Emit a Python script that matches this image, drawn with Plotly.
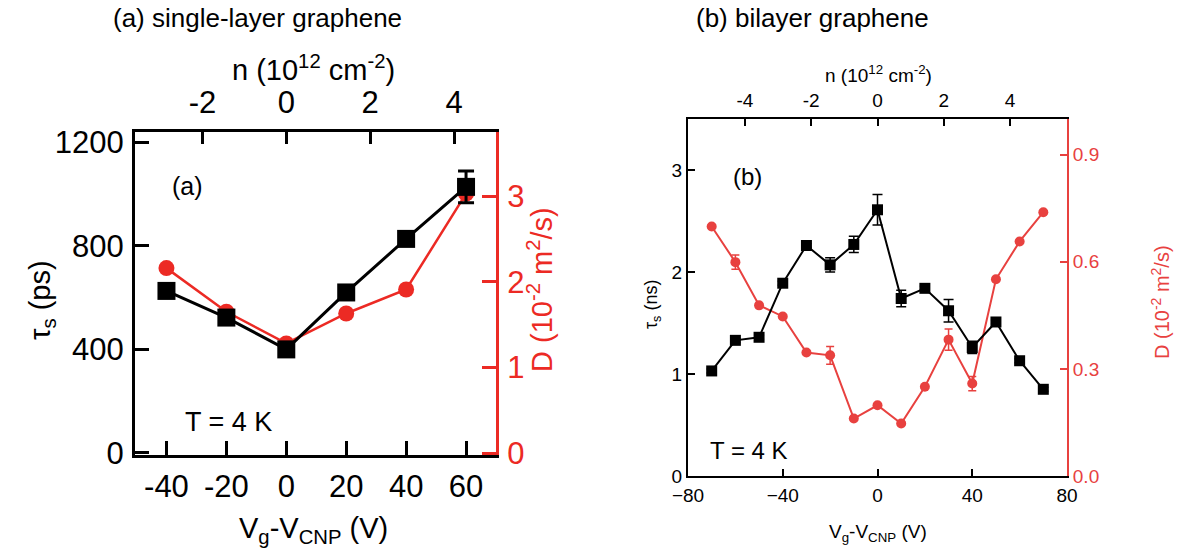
import plotly.graph_objects as go

# ---------------- data ----------------
# panel (a) single-layer graphene
va = [-40, -20, 0, 20, 40, 60]
tau_a = [626, 523, 400, 620, 827, 1028]          # ps
tau_a_err = [0, 0, 0, 0, 0, 61]
D_a = [2.16, 1.65, 1.28, 1.63, 1.91, 3.03]       # 1e-2 m^2/s

# panel (b) bilayer graphene
vb = [-70, -60, -50, -40, -30, -20, -10, 0, 10, 20, 30, 40, 50, 60, 70]
tau_b = [1.03, 1.33, 1.36, 1.89, 2.26, 2.07, 2.27, 2.61, 1.74, 1.84, 1.62, 1.26, 1.51, 1.13, 0.85]  # ns
tau_b_err = [0.02, 0.02, 0.02, 0.02, 0.02, 0.07, 0.08, 0.15, 0.08, 0.02, 0.11, 0.06, 0.02, 0.02, 0.02]
D_b = [0.699, 0.599, 0.478, 0.447, 0.346, 0.338, 0.161, 0.198, 0.147, 0.250, 0.382, 0.259, 0.551, 0.657, 0.739]
D_b_err = [0.0, 0.02, 0.0, 0.0, 0.0, 0.025, 0.0, 0.0, 0.0, 0.0, 0.03, 0.02, 0.0, 0.0, 0.0]

# top axis: carrier density n (1e12 cm^-2) vs gate voltage
n_ticks_a = [-2, 0, 2, 4]
n_ticks_b = [-4, -2, 0, 2, 4]
V_per_n = 14.0

W, H = 1184, 558
FONT = "Liberation Sans, Arial, Helvetica, sans-serif"
RED_A = "#ec2a24"
RED_B = "#e8413f"


def px(x, y):
    return x / W, 1 - y / H


fig = go.Figure()

# ---- panel (a) ----
fig.add_trace(go.Scatter(x=va, y=D_a, xaxis="x", yaxis="y", mode="lines+markers",
                         line=dict(color=RED_A, width=2.5),
                         marker=dict(symbol="circle", size=16, color=RED_A),
                         showlegend=False, cliponaxis=False))
fig.add_trace(go.Scatter(x=va, y=tau_a, xaxis="x", yaxis="y2", mode="lines+markers",
                         line=dict(color="black", width=3),
                         marker=dict(symbol="square", size=18, color="black"),
                         error_y=dict(type="data", array=tau_a_err, color="black",
                                      thickness=3, width=8),
                         showlegend=False, cliponaxis=False))

# ---- panel (b) ----
fig.add_trace(go.Scatter(x=vb, y=D_b, xaxis="x3", yaxis="y3", mode="lines+markers",
                         line=dict(color=RED_B, width=2),
                         marker=dict(symbol="circle", size=10, color=RED_B),
                         error_y=dict(type="data", array=D_b_err, color=RED_B,
                                      thickness=1.5, width=4),
                         showlegend=False, cliponaxis=False))
fig.add_trace(go.Scatter(x=vb, y=tau_b, xaxis="x3", yaxis="y4", mode="lines+markers",
                         line=dict(color="black", width=2),
                         marker=dict(symbol="square", size=11, color="black"),
                         error_y=dict(type="data", array=tau_b_err, color="black",
                                      thickness=1.5, width=5),
                         showlegend=False, cliponaxis=False))

dom_ax = [135 / W, 496 / W]
dom_ay = [1 - 455 / H, 1 - 132 / H]
dom_bx = [688 / W, 1067 / W]
dom_by = [1 - 476 / H, 1 - 119 / H]

fa = dict(family=FONT, size=31, color="black")
fb = dict(family=FONT, size=19, color="black")

common_a = dict(showgrid=False, zeroline=False, showline=True, linewidth=3,
                ticks="inside", ticklen=14, tickwidth=3, automargin=False)
common_b = dict(showgrid=False, zeroline=False, showline=True, linewidth=2,
                ticks="inside", ticklen=7, tickwidth=1.5, automargin=False)

xr_a = [-50.5, 70]
xr_b = [-80, 80]

fig.update_layout(
    width=W, height=H, margin=dict(l=0, r=0, t=0, b=0, autoexpand=False),
    paper_bgcolor="white", plot_bgcolor="white",
    font=dict(family=FONT),
    # panel (a)
    xaxis=dict(domain=dom_ax, anchor="y", range=xr_a, tickvals=va,
               ticktext=[str(v) for v in va], linecolor="black", tickcolor="black",
               tickfont=fa, ticklabelstandoff=2, **common_a),
    xaxis2=dict(overlaying="x", anchor="y", side="top", range=xr_a,
                tickvals=[n * V_per_n for n in n_ticks_a], ticktext=[str(n) for n in n_ticks_a],
                linecolor="black", tickcolor="black", tickfont=fa, ticklabelstandoff=4,
                ticklen=12, **{k: v for k, v in common_a.items() if k != "ticklen"}),
    yaxis=dict(domain=dom_ay, anchor="x", side="right", range=[-0.023, 3.75],
               tickvals=[0, 1, 2, 3], linecolor=RED_A, tickcolor=RED_A,
               tickfont=dict(family=FONT, size=31, color=RED_A), ticklabelstandoff=2, **common_a),
    yaxis2=dict(overlaying="y", anchor="x", side="left", range=[-8, 1240],
                tickvals=[0, 400, 800, 1200], linecolor="black", tickcolor="black",
                tickfont=fa, ticklabelstandoff=2, **common_a),
    # panel (b)
    xaxis3=dict(domain=dom_bx, anchor="y3", range=xr_b, tickvals=[-80, -40, 0, 40, 80],
                linecolor="black", tickcolor="black", tickfont=fb, ticklabelstandoff=1, **common_b),
    xaxis4=dict(overlaying="x3", anchor="y3", side="top", range=xr_b,
                tickvals=[n * V_per_n for n in n_ticks_b], ticktext=[str(n) for n in n_ticks_b],
                linecolor="black", tickcolor="black", tickfont=fb, ticklabelstandoff=2, **common_b),
    yaxis3=dict(domain=dom_by, anchor="x3", side="right", range=[0, 1.0],
                tickvals=[0, 0.3, 0.6, 0.9], ticktext=["0.0", "0.3", "0.6", "0.9"],
                linecolor=RED_B, tickcolor=RED_B,
                tickfont=dict(family=FONT, size=19, color=RED_B), ticklabelstandoff=0, **common_b),
    yaxis4=dict(overlaying="y3", anchor="x3", side="left", range=[0, 3.5],
                tickvals=[0, 1, 2, 3], linecolor="black", tickcolor="black",
                tickfont=fb, ticklabelstandoff=0, **common_b),
)

# invisible traces so the top axes get drawn
fig.add_trace(go.Scatter(x=[0], y=[0], xaxis="x2", yaxis="y", mode="markers",
                         marker=dict(opacity=0), showlegend=False, hoverinfo="skip"))
fig.add_trace(go.Scatter(x=[0], y=[0], xaxis="x4", yaxis="y3", mode="markers",
                         marker=dict(opacity=0), showlegend=False, hoverinfo="skip"))


def ann(text, x, y, size, color="black", angle=0):
    ax, ay = px(x, y)
    fig.add_annotation(text=text, x=ax, y=ay, xref="paper", yref="paper",
                       xanchor="center", yanchor="middle", showarrow=False,
                       textangle=angle, font=dict(family=FONT, size=size, color=color))


ann("(a) single-layer graphene", 257, 18, 26)
ann("(b) bilayer graphene", 812, 18, 26)
ann("n (10<sup>12</sup> cm<sup>-2</sup>)", 313, 68, 29)
ann("n (10<sup>12</sup> cm<sup>-2</sup>)", 878, 74, 19)
ann("V<sub>g</sub>-V<sub>CNP</sub> (V)", 313, 530, 29)
ann("V<sub>g</sub>-V<sub>CNP</sub> (V)", 878, 533, 19)
ann("τ<sub>s</sub> (ps)", 42, 300, 29, angle=-90)
ann("D (10<sup>-2</sup> m<sup>2</sup>/s)", 540, 290, 29, color=RED_A, angle=-90)
ann("τ<sub>s</sub> (ns)", 652, 305, 18, angle=-90)
ann("D (10<sup>-2</sup> m<sup>2</sup>/s)", 1160, 302, 20, color=RED_B, angle=-90)
ann("(a)", 187, 186, 25)
ann("T = 4 K", 228, 422, 27)
ann("(b)", 747, 177, 24)
ann("T = 4 K", 749, 450, 24)

fig.write_html("out.html")
